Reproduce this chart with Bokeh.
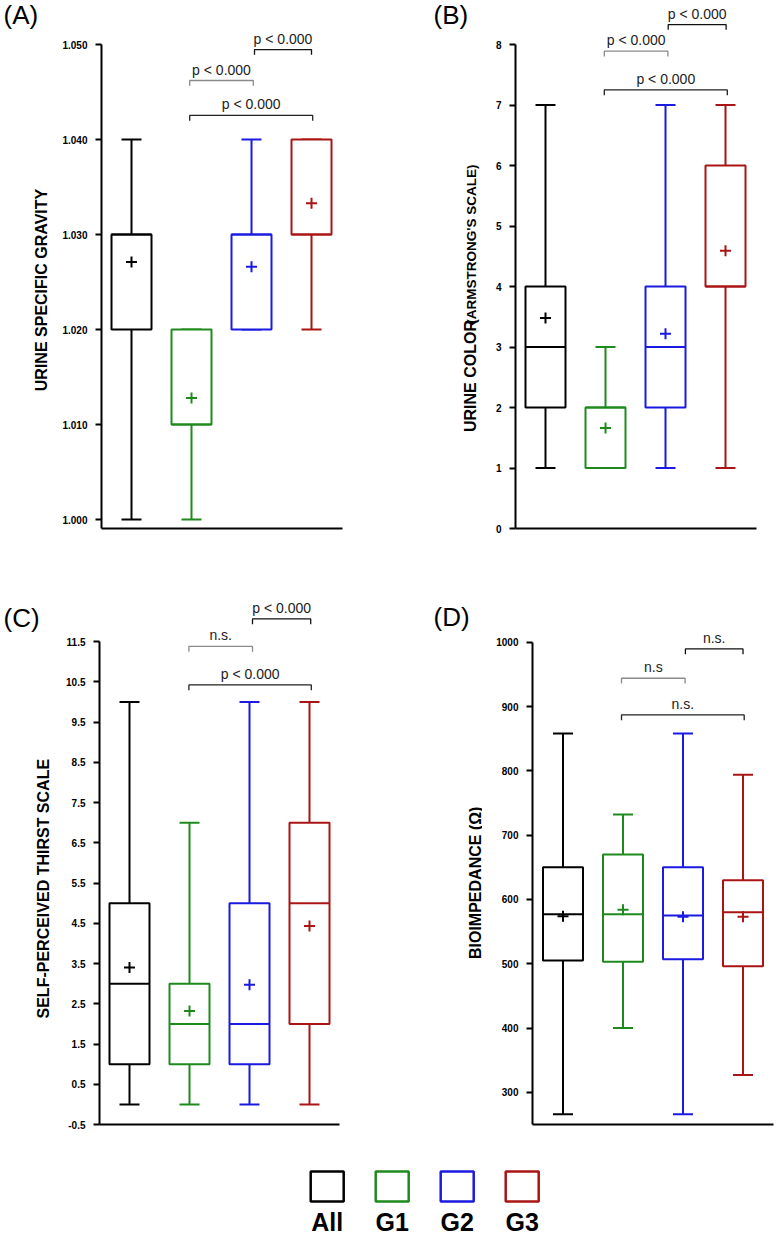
import numpy as np
from bokeh.plotting import figure
from bokeh.models import FixedTicker, PrintfTickFormatter, Range1d
from bokeh.layouts import column, row
from bokeh.core.properties import value
from bokeh.embed import file_html
from bokeh.resources import INLINE

# ---------------- data ----------------
groups = ["All", "G1", "G2", "G3"]
group_colors = ["#000000", "#1e8a1e", "#1a1ae0", "#aa1414"]

# (A) urine specific gravity
a_low = [1.000, 1.000, 1.020, 1.020]
a_q1 = [1.020, 1.010, 1.020, 1.030]
a_med = [1.030, 1.010, 1.030, 1.030]
a_q3 = [1.030, 1.020, 1.030, 1.040]
a_high = [1.040, 1.020, 1.040, 1.040]
a_mean = [1.0271, 1.0128, 1.0266, 1.0333]
a_ticks = [1.000, 1.010, 1.020, 1.030, 1.040, 1.050]
a_br_x0 = [3.05, 1.97, 1.97]
a_br_x1 = [4.00, 3.03, 4.02]
a_br_y = [1.04947, 1.04621, 1.04253]
a_br_text = ["p < 0.000", "p < 0.000", "p < 0.000"]

# (B) urine color (Armstrong's scale)
b_low = [1, 1, 1, 1]
b_q1 = [2, 1, 2, 4]
b_med = [3, 2, 3, 4]
b_q3 = [4, 2, 4, 6]
b_high = [7, 3, 7, 7]
b_mean = [3.48, 1.66, 3.22, 4.59]
b_ticks = [0, 1, 2, 3, 4, 5, 6, 7, 8]
b_br_x0 = [3.045, 1.98, 1.98]
b_br_x1 = [4.01, 3.04, 4.03]
b_br_y = [8.33, 7.89, 7.25]
b_br_text = ["p < 0.000", "p < 0.000", "p < 0.000"]

# (C) self-perceived thirst scale
c_low = [0, 0, 0, 0]
c_q1 = [1, 1, 1, 2]
c_med = [3, 2, 2, 5]
c_q3 = [5, 3, 5, 7]
c_high = [10, 7, 10, 10]
c_mean = [3.40, 2.32, 2.97, 4.43]
c_ticks = [-0.5, 0.5, 1.5, 2.5, 3.5, 4.5, 5.5, 6.5, 7.5, 8.5, 9.5, 10.5, 11.5]
c_br_x0 = [3.05, 1.99, 1.99]
c_br_x1 = [4.02, 3.05, 4.03]
c_br_y = [12.06, 11.38, 10.42]
c_br_text = ["p < 0.000", "n.s.", "p < 0.000"]

# (D) bioimpedance
d_low = [266, 400, 266, 327]
d_q1 = [505, 503, 507, 496]
d_med = [577, 577, 575, 580]
d_q3 = [650, 670, 650, 630]
d_high = [858, 732, 858, 794]
d_mean = [574, 584, 573, 573]
d_ticks = [300, 400, 500, 600, 700, 800, 900, 1000]
d_br_x0 = [3.04, 1.975, 1.975]
d_br_x1 = [4.00, 3.035, 4.02]
d_br_y = [989.6, 944.0, 887.0]
d_br_text = ["n.s.", "n.s", "n.s."]

panel_letters = ["(A)", "(B)", "(C)", "(D)"]
y_titles = ["URINE SPECIFIC GRAVITY", "URINE COLOR", "(ARMSTRONG'S SCALE)",
            "SELF-PERCEIVED THIRST SCALE", "BIOIMPEDANCE (\u03a9)"]

# ---------------- styling ----------------
SANS = "Liberation Sans"
BOX_HALF = 1.0 / 3.0
CAP_HALF = 1.0 / 6.0
TEXT_GAP = 11.0  # px between bracket and text centre
br_colors = ["#111111", "#8a8a8a", "#222222"]


def blank(fig):
    fig.outline_line_color = None
    fig.grid.visible = False
    fig.background_fill_color = "white"
    fig.border_fill_color = "white"


def make_panel(fig_w, fig_h, mb, xr, yr, ticks, fmt, bounds,
               low, q1, med, q3, high, mean, br_x0, br_x1, br_y, br_text):
    left, right, top, bottom = mb
    p = figure(width=fig_w, height=fig_h, x_range=Range1d(*xr), y_range=Range1d(*yr),
               toolbar_location=None, output_backend="svg", title=None,
               min_border_left=left, min_border_right=right,
               min_border_top=top, min_border_bottom=bottom)
    blank(p)

    xa = p.xaxis[0]
    xa.ticker = FixedTicker(ticks=[])
    xa.major_label_text_font_size = "0px"
    xa.major_tick_line_color = None
    xa.major_tick_out = 0
    xa.major_label_standoff = 0
    xa.minor_tick_line_color = None
    xa.axis_line_width = 2
    xa.axis_line_color = "black"

    ya = p.yaxis[0]
    ya.ticker = FixedTicker(ticks=ticks)
    ya.formatter = PrintfTickFormatter(format=fmt)
    ya.bounds = bounds
    ya.axis_line_width = 2
    ya.axis_line_color = "black"
    ya.major_tick_line_width = 2
    ya.major_tick_line_color = "black"
    ya.major_tick_out = 6
    ya.major_tick_in = 0
    ya.minor_tick_line_color = None
    ya.major_label_standoff = 8
    ya.major_label_text_font = SANS
    ya.major_label_text_font_style = "bold"
    ya.major_label_text_font_size = "10px"
    ya.major_label_text_color = "black"

    pos = np.arange(1, len(groups) + 1, dtype=float)
    low = np.array(low, float); q1 = np.array(q1, float); med = np.array(med, float)
    q3 = np.array(q3, float); high = np.array(high, float); mean = np.array(mean, float)

    p.segment(x0=pos, y0=q3, x1=pos, y1=high, line_color=group_colors, line_width=2)
    p.segment(x0=pos, y0=q1, x1=pos, y1=low, line_color=group_colors, line_width=2)
    p.segment(x0=pos - CAP_HALF, y0=high, x1=pos + CAP_HALF, y1=high, line_color=group_colors, line_width=2)
    p.segment(x0=pos - CAP_HALF, y0=low, x1=pos + CAP_HALF, y1=low, line_color=group_colors, line_width=2)
    p.quad(left=pos - BOX_HALF, right=pos + BOX_HALF, bottom=q1, top=q3,
           fill_color="white", line_color=group_colors, line_width=2)
    p.segment(x0=pos - BOX_HALF, y0=med, x1=pos + BOX_HALF, y1=med, line_color=group_colors, line_width=2)
    p.scatter(x=pos, y=mean, marker="cross", size=11, line_width=2, line_color=group_colors)

    frame_h = fig_h - top - bottom
    upp = (yr[1] - yr[0]) / frame_h  # data units per pixel
    drop = 5.3 * upp
    xs, ys = [], []
    for x0, x1, y in zip(br_x0, br_x1, br_y):
        xs.append([x0, x0, x1, x1])
        ys.append([y - drop, y, y, y - drop])
    p.multi_line(xs=xs, ys=ys, line_color=br_colors, line_width=1.3)
    mids = [(a + b) / 2 for a, b in zip(br_x0, br_x1)]
    ty = [y + TEXT_GAP * upp for y in br_y]
    p.text(x=mids, y=ty, text=br_text, text_font=value(SANS), text_font_size="14px",
           text_color="#222222", text_align="center", text_baseline="middle")
    return p


def make_strip(w, h, letter, letter_xy, labels):
    s = figure(width=w, height=h, x_range=Range1d(0, w), y_range=Range1d(0, h),
               x_axis_type=None, y_axis_type=None,
               toolbar_location=None, output_backend="svg", title=None,
               min_border_left=0, min_border_right=0, min_border_top=0, min_border_bottom=0)
    blank(s)
    s.text(x=[letter_xy[0]], y=[letter_xy[1]], text=[letter], text_font=value(SANS),
           text_font_size="26px", text_color="black", text_align="left", text_baseline="middle")
    for (txt, lx, ly, size, align) in labels:
        s.text(x=[lx], y=[ly], text=[txt], angle=np.pi / 2, text_font=value(SANS),
               text_font_style="bold", text_font_size=size, text_color="black",
               text_align=align, text_baseline="middle")
    return s


H1, H2, HL = 580, 556, 99

pA = make_panel(333, H1, (46, 46, 0, 52), (0.5, 0.5 + 241 / 60), (0.999053, 0.999053 + 528 / 9500),
                a_ticks, "%.3f", (0.999053, 1.05),
                a_low, a_q1, a_med, a_q3, a_high, a_mean, a_br_x0, a_br_x1, a_br_y, a_br_text)
pB = make_panel(295, H1, (33, 21, 0, 52), (0.5, 0.5 + 241 / 60), (0.0, 528 / 60.5),
                b_ticks, "%d", (0, 8),
                b_low, b_q1, b_med, b_q3, b_high, b_mean, b_br_x0, b_br_x1, b_br_y, b_br_text)
pC = make_panel(333, H2, (44, 49, 0, 12), (0.5, 4.5), (-0.5, -0.5 + 544 / 40.25),
                c_ticks, "%.1f", (-0.5, 11.5),
                c_low, c_q1, c_med, c_q3, c_high, c_mean, c_br_x0, c_br_x1, c_br_y, c_br_text)
pD = make_panel(295, H2, (50, 4, 0, 12), (0.4917, 0.4917 + 241 / 60), (250.0, 250 + 544 / 0.643),
                d_ticks, "%d", (250, 1000),
                d_low, d_q1, d_med, d_q3, d_high, d_mean, d_br_x0, d_br_x1, d_br_y, d_br_text)

sA = make_strip(55, H1, panel_letters[0], (3, H1 - 16),
                [(y_titles[0], 41, H1 - 318, "16px", "center")])
sB = make_strip(94, H1, panel_letters[1], (45, H1 - 16),
                [(y_titles[1], 82, H1 - 474, "16px", "left"),
                 (y_titles[2], 83, H1 - 355, "13.5px", "left")])
sC = make_strip(55, H2, panel_letters[2], (3, H2 - 38),
                [(y_titles[3], 42.7, H2 - 315, "16px", "center")])
sD = make_strip(94, H2, panel_letters[3], (45, H2 - 37),
                [(y_titles[4], 86.5, H2 - 309, "16px", "center")])

# legend strip
pL = figure(width=777, height=HL, x_range=Range1d(-326.7 / 65, (777 - 326.7) / 65), y_range=Range1d(0, HL),
            x_axis_type=None, y_axis_type=None,
            toolbar_location=None, output_backend="svg", title=None,
            min_border_left=0, min_border_right=0, min_border_top=0, min_border_bottom=0)
blank(pL)
leg_x = np.arange(len(groups), dtype=float)
pL.rect(x=leg_x, y=[HL - 50] * len(groups), width=33, height=30, width_units="screen", height_units="screen",
        fill_color="white", line_color=group_colors, line_width=2.5)
pL.text(x=leg_x, y=[14] * len(groups), text=groups, text_font=value(SANS), text_font_style="bold",
        text_font_size="25px", text_color="black", text_align="center", text_baseline="middle")

layout = column(row(sA, pA, sB, pB), row(sC, pC, sD, pD), pL)
open("out.html", "w").write(file_html(layout, INLINE))
